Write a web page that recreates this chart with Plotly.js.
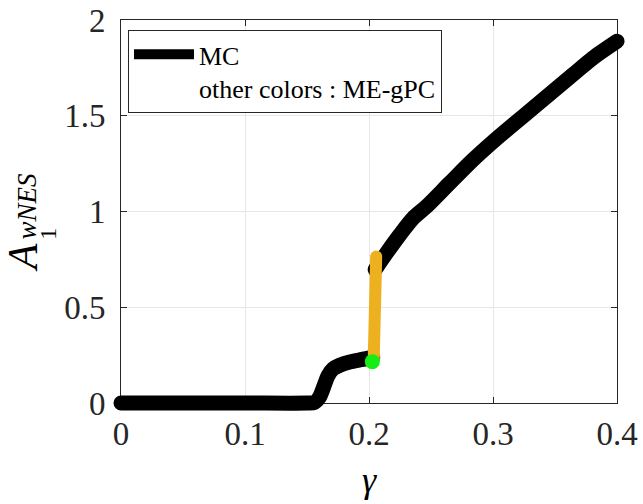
<!DOCTYPE html>
<html>
<head>
<meta charset="utf-8">
<script src="https://cdn.plot.ly/plotly-3.0.1.min.js"></script>
<style>
  html, body { margin: 0; padding: 0; background: #fff; }
  #chart { width: 643px; height: 504px; }
  g.plot, .scatterlayer, .scatterlayer .trace, .scatterlayer .js-line, .scatterlayer .points { clip-path: none !important; }
</style>
</head>
<body>
<div id="chart"></div>
<script>
// MC reference curve: lower branch, then upper branch (null marks the jump)
const mcLowerX = [0, 0.05, 0.10, 0.150, 0.156, 0.160, 0.1643, 0.167, 0.171, 0.1764, 0.1844, 0.1925, 0.2006, 0.2030];
const mcLowerY = [0, 0,    0,    0,     0.003, 0.030, 0.099,  0.143, 0.178, 0.197,  0.214,  0.225,  0.235,  0.237];
const mcUpperX = [0.2050, 0.214, 0.2248, 0.2355, 0.2463, 0.265, 0.2839, 0.2987, 0.3161, 0.3323, 0.3645, 0.3806, 0.4000];
const mcUpperY = [0.697,  0.782, 0.878,  0.965,  1.026,  1.148, 1.270,  1.357,  1.453,  1.540,  1.715,  1.802,  1.889];

// ME-gPC pieces
const orangeX = [0.2038, 0.2058];
const orangeY = [0.225, 0.765];
const greenX = [0.2027];
const greenY = [0.216];

// axis ticks
const xTickVals = [0, 0.1, 0.2, 0.3, 0.4];
const xTickText = ['0', '0.1', '0.2', '0.3', '0.4'];
const yTickVals = [0, 0.5, 1, 1.5, 2];
const yTickText = ['0', '0.5', '1', '1.5', '2'];

const legendNames = ['MC', 'other colors : ME-gPC'];

const mcX = mcLowerX.concat([null], mcUpperX);
const mcY = mcLowerY.concat([null], mcUpperY);

const serif = 'Liberation Serif, Times New Roman, serif';
const axisColor = '#262626';

const traces = [
  { x: mcX, y: mcY, mode: 'lines', name: legendNames.join('<br>'), cliponaxis: false,
    line: { color: '#000000', width: 15, shape: 'spline', smoothing: 0.8 }, showlegend: true },
  { x: orangeX, y: orangeY, mode: 'lines', cliponaxis: false,
    line: { color: '#EDB120', width: 12 }, showlegend: false },
  { x: greenX, y: greenY, mode: 'markers', cliponaxis: false,
    marker: { color: '#14EE14', size: 15, line: { width: 0 } }, showlegend: false }
];

const axisCommon = {
  showline: true, linecolor: axisColor, linewidth: 1, mirror: 'ticks',
  ticks: 'inside', ticklen: 6, tickwidth: 1, tickcolor: axisColor,
  showgrid: true, gridcolor: '#e6e6e6', gridwidth: 1,
  zeroline: false, layer: 'below traces',
  tickfont: { family: serif, size: 33, color: axisColor }
};

const layout = {
  width: 643, height: 504,
  margin: { l: 121, r: 26, t: 20, b: 101, pad: 0 },
  paper_bgcolor: '#ffffff', plot_bgcolor: '#ffffff',
  xaxis: Object.assign({}, axisCommon, {
    range: [0, 0.4], tickmode: 'array', tickvals: xTickVals, ticktext: xTickText,
    ticklabelstandoff: 1
  }),
  yaxis: Object.assign({}, axisCommon, {
    range: [0, 2], tickmode: 'array', tickvals: yTickVals, ticktext: yTickText,
    ticklabelstandoff: 8
  }),
  showlegend: true,
  legend: {
    x: 0.0141, y: 0.974, xanchor: 'left', yanchor: 'top', valign: 'top',
    bgcolor: '#ffffff', bordercolor: axisColor, borderwidth: 1,
    font: { family: serif, size: 26, color: '#000000' },
    itemwidth: 60, tracegroupgap: 0
  },
  annotations: [
    { text: '<i>γ</i>', xref: 'paper', yref: 'paper', x: 0.5, y: -0.2, xanchor: 'center', yanchor: 'middle',
      showarrow: false, font: { family: serif, size: 36, color: '#000' } },
    { text: '<i>A</i>', xref: 'paper', yref: 'paper', x: -0.196, y: 0.38, xanchor: 'center', yanchor: 'middle',
      textangle: -90, showarrow: false, font: { family: serif, size: 42, color: '#000' } },
    { text: '1', xref: 'paper', yref: 'paper', x: -0.147, y: 0.442, xanchor: 'center', yanchor: 'middle',
      textangle: -90, showarrow: false, font: { family: serif, size: 24, color: '#000' } },
    { text: '<i>wNES</i>', xref: 'paper', yref: 'paper', x: -0.190, y: 0.515, xanchor: 'center', yanchor: 'middle',
      textangle: -90, showarrow: false, font: { family: serif, size: 27, color: '#000' } }
  ]
};

Plotly.newPlot('chart', traces, layout, { staticPlot: true, displayModeBar: false }).then(function () {
  document.querySelectorAll('.scatterlayer path.js-line').forEach(function (p) {
    p.style.strokeLinecap = 'round';
    p.style.strokeLinejoin = 'round';
  });
});
</script>
</body>
</html>
